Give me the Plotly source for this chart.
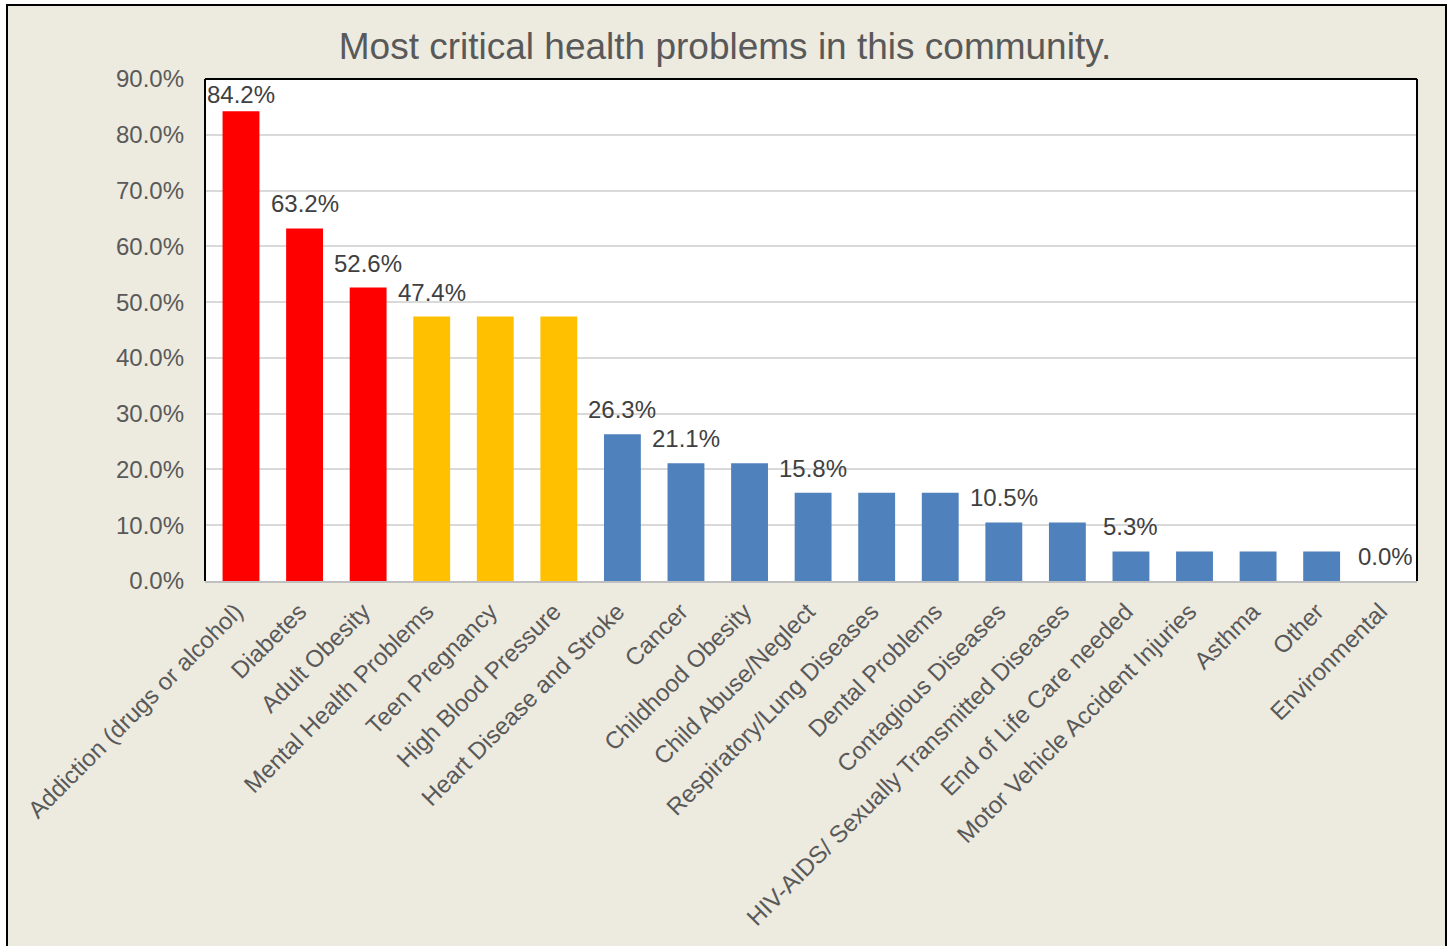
import plotly.graph_objects as go

categories = [
    "Addiction (drugs or alcohol)", "Diabetes", "Adult Obesity", "Mental Health Problems",
    "Teen Pregnancy", "High Blood Pressure", "Heart Disease and Stroke", "Cancer",
    "Childhood Obesity", "Child Abuse/Neglect", "Respiratory/Lung Diseases", "Dental Problems",
    "Contagious Diseases", "HIV-AIDS/ Sexually Transmitted Diseases", "End of Life Care needed",
    "Motor Vehicle Accident Injuries", "Asthma", "Other", "Environmental",
]
values = [84.2, 63.2, 52.6, 47.4, 47.4, 47.4, 26.3, 21.1, 21.1, 15.8, 15.8, 15.8,
          10.5, 10.5, 5.3, 5.3, 5.3, 5.3, 0.0]
label_shown = [True, True, True, True, False, False, True, True, False, True, False, False,
               True, False, True, False, False, False, True]
tier = ["red"] * 3 + ["gold"] * 3 + ["blue"] * 13
tier_colors = {"red": "#FF0000", "gold": "#FFC000", "blue": "#4F81BD"}
y_ticks = [0, 10, 20, 30, 40, 50, 60, 70, 80, 90]
Y_MAX = 90

FONT = "Liberation Sans, Arial, sans-serif"
GRAY = "#595959"
BEIGE = "#EDEADF"

W, H = 1450, 946
L, R, T, B = 205, 1417, 79, 581


def px_x(p):
    return (p - L) / (R - L)


def px_y(p):
    return (B - p) / (B - T)


fig = go.Figure(
    go.Bar(
        x=categories,
        y=values,
        marker=dict(color=[tier_colors[t] for t in tier], line=dict(width=0)),
        hoverinfo="x+y",
    )
)

# data labels; like Excel, a label that would leave the plot area is kept inside it
LABEL_SHIFT = 9
LABEL_PX = 28
annotations = []
for c, v, s in zip(categories, values, label_shown):
    if not s:
        continue
    room = (Y_MAX - v) * (B - T) / Y_MAX
    if room >= LABEL_SHIFT + LABEL_PX:
        annotations.append(dict(
            x=c, y=v, xref="x", yref="y", text=f"{v:.1f}%", showarrow=False,
            xanchor="center", yanchor="bottom", yshift=LABEL_SHIFT,
            font=dict(family=FONT, size=24, color="#404040"),
        ))
    else:
        annotations.append(dict(
            x=c, y=Y_MAX, xref="x", yref="y", text=f"{v:.1f}%", showarrow=False,
            xanchor="center", yanchor="top", yshift=0,
            font=dict(family=FONT, size=24, color="#404040"),
        ))

shapes = [
    dict(type="rect", xref="paper", yref="paper", x0=px_x(-5), x1=px_x(6), y0=px_y(960), y1=px_y(-5),
         fillcolor="white", line=dict(width=0), layer="above"),
    dict(type="rect", xref="paper", yref="paper", x0=px_x(-5), x1=px_x(1460), y0=px_y(4), y1=px_y(-5),
         fillcolor="white", line=dict(width=0), layer="above"),
    dict(type="rect", xref="paper", yref="paper", x0=px_x(1447), x1=px_x(1460), y0=px_y(960), y1=px_y(-5),
         fillcolor="white", line=dict(width=0), layer="above"),
    dict(type="rect", xref="paper", yref="paper", x0=px_x(7), x1=px_x(1446), y0=px_y(960), y1=px_y(5),
         line=dict(color="black", width=2), fillcolor="rgba(0,0,0,0)", layer="above"),
    dict(type="line", xref="paper", yref="paper", x0=0, x1=0, y0=0, y1=1,
         line=dict(color="black", width=2), layer="above"),
    dict(type="line", xref="paper", yref="paper", x0=0, x1=1, y0=1, y1=1,
         line=dict(color="black", width=2), layer="above"),
    dict(type="line", xref="paper", yref="paper", x0=1, x1=1, y0=0, y1=1,
         line=dict(color="black", width=2), layer="above"),
]

fig.update_layout(
    width=W,
    height=H,
    margin=dict(l=L, r=W - R, t=T, b=H - B, pad=0),
    paper_bgcolor=BEIGE,
    plot_bgcolor="white",
    bargap=0.42,
    showlegend=False,
    font=dict(family=FONT, size=24, color=GRAY),
    title=dict(
        text="Most critical health problems in this community.",
        x=0.5,
        xref="container",
        xanchor="center",
        y=1 - 46 / H,
        yref="container",
        yanchor="middle",
        font=dict(family=FONT, size=37, color=GRAY),
    ),
    xaxis=dict(
        type="category",
        tickangle=-45,
        tickfont=dict(family=FONT, size=24, color=GRAY),
        showgrid=False,
        showline=True,
        linecolor="#BFBFBF",
        linewidth=2,
        ticks="",
        ticklabelstandoff=5,
        ticklabelshift=-5,
        automargin=False,
    ),
    yaxis=dict(
        range=[0, Y_MAX],
        tickvals=y_ticks,
        ticktext=[f"{v:.1f}%" for v in y_ticks],
        tickfont=dict(family=FONT, size=24, color=GRAY),
        showgrid=True,
        gridcolor="#D9D9D9",
        gridwidth=1.5,
        zeroline=False,
        showline=False,
        ticks="",
        ticklabelstandoff=20,
        automargin=False,
    ),
    shapes=shapes,
    annotations=annotations,
)

fig.write_html(
    "out.html",
    config={"displayModeBar": False},
    post_script="document.body.style.margin='0';",
)
